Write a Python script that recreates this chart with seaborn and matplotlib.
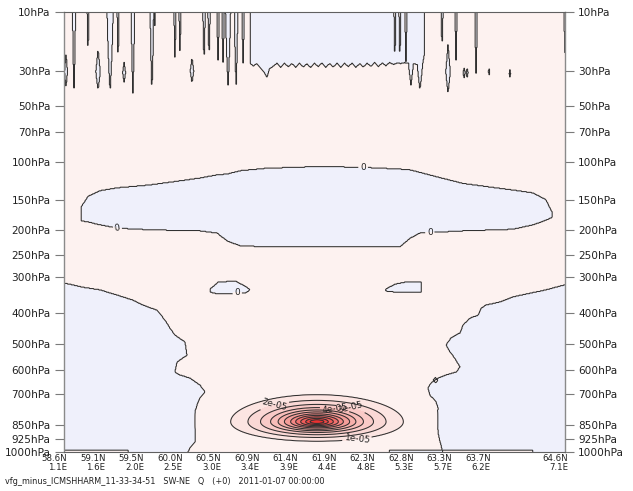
import numpy as np
import matplotlib
matplotlib.use("Agg")
import matplotlib.pyplot as plt
from matplotlib.path import Path
from matplotlib.transforms import ScaledTranslation
import seaborn as sns

# ---------------------------------------------------------------------------
# Section layout: SW-NE cross section, 200 grid columns, pressure on a p**kappa axis
# ---------------------------------------------------------------------------
KAPPA = 2.0 / 7.0
N_COLS = 200
N_STEPS = 13

pressure_ticks = [10, 30, 50, 70, 100, 150, 200, 250, 300, 400, 500, 600, 700, 850, 925, 1000]
section_lat = ["58.6N", "59.1N", "59.5N", "60.0N", "60.5N", "60.9N", "61.4N",
               "61.9N", "62.3N", "62.8N", "63.3N", "63.7N", "64.6N"]
section_lon = ["1.1E", "1.6E", "2.0E", "2.5E", "3.0E", "3.4E", "3.9E",
               "4.4E", "4.8E", "5.3E", "5.7E", "6.2E", "7.1E"]
section_step = [0, 1, 2, 3, 4, 5, 6, 7, 8, 9, 10, 11, 13]

caption = "vfg_minus_ICMSHHARM_11-33-34-51   SW-NE   Q   (+0)   2011-01-07 00:00:00"

# contour levels of the Q difference (kg/kg)
q_levels = [0.0, 1e-05, 2e-05, 3e-05, 4e-05, 5e-05, 6e-05, 7e-05, 8e-05, 9e-05, 1e-04, 1.1e-04]

# label anchors (grid column, hPa) for the labelled contour levels
label_anchor = {
    0.0: [(21.2, 196), (119.4, 106), (146.1, 199), (69.1, 342)],
    1e-05: [(116.6, 890)],
    2e-05: [(84.2, 761)],
    3e-05: [(114.5, 762)],
    4e-05: [(108.0, 778)],
}

# ---------------------------------------------------------------------------
# Zero line of the field: areas where the difference is negative
# (x in grid columns, p in hPa)
# ---------------------------------------------------------------------------
# upper-tropospheric negative lobe
lobe_x = [6.8, 9.6, 14.4, 21.2, 34.3, 54.3, 61.1, 65.1, 70.3, 81.0, 102.2, 119.4,
          134.1, 138.1, 142.1, 159.3, 179.2, 187.2, 192.4, 194.8]
lobe_top = [160, 144, 136, 132, 128, 119, 115, 114, 110, 107, 105, 106,
            108, 109, 112, 126, 135, 139, 149, 168]
lobe_bot = [183, 185, 190, 196, 199, 201, 205, 220, 230, 232, 232, 232,
            232, 215, 205, 201, 198, 190, 182, 177]

# two small negative cells near 330 hPa
cell1_x = [58.3, 61.5, 68.3, 72.3, 74.3]
cell1_top = [331, 313, 310, 323, 333]
cell1_bot = [339, 344, 342, 342, 333]
cell2_x = [128.5, 132.1, 136.1, 142.5]
cell2_top = [331, 318, 313, 313]
cell2_bot = [336, 339, 339, 339]

# lower-left negative area (outline)
ll_x = [-5, 0, 7.6, 14.4, 21.2, 27.5, 31.5, 37.1, 40.3, 42.3,
        44.3, 47.1, 48.3, 49.1, 45.1, 44.3, 46.3, 50.3, 54.3, 56.3,
        54.3, 53.1, 52.3, 52.3, 52.3, 50.3, 49.1, -5]
ll_p = [315, 315, 326, 333, 347, 361, 375, 390, 420, 446,
        469, 486, 493, 541, 567, 607, 619, 632, 662, 692,
        719, 752, 785, 888, 943, 977, 1010, 1010]

# lower-right negative area (outline)
lr_x = [205, 200, 198, 192.4, 186.0, 179.2, 174.1, 168.5, 166.5, 165.3,
        162.1, 159.3, 158.1, 156.5, 154.5, 153.3, 152.5, 154.1, 156.0, 158.1,
        156.5, 152.5, 149.3, 146.5, 145.3, 146.1, 148.5, 149.3, 149.0, 149.3,
        150.1, 150.5, 151.3, 205]
lr_p = [320, 320, 323, 333, 342, 352, 366, 375, 384, 405,
        414, 436, 462, 469, 479, 493, 504, 529, 552, 587,
        607, 619, 632, 653, 674, 706, 737, 766, 815, 888,
        943, 960, 1010, 1010]

# stratospheric negative block under 10 hPa: lower edge
block_x = [74.3, 75.5, 77.0, 78.5, 80.0, 81.0, 82.0, 83.5, 85.0, 86.5,
           88.0, 89.5, 91.0, 92.5, 94.0, 95.5, 97.0, 98.5, 100.0, 101.5,
           103.0, 104.5, 106.0, 107.5, 109.0, 110.5, 112.0, 113.5, 115.0, 116.5,
           118.0, 119.5, 121.0, 122.5, 124.0, 125.5, 127.0, 128.5, 130.0, 131.5,
           133.0, 134.5, 136.0, 137.5, 138.5, 139.5, 141.0, 142.1, 143.2, 144.0]
block_bottom = [26.2, 27.5, 26.4, 28.6, 30.5, 32.8, 28.8, 27.6, 26.3, 28.0,
                26.2, 27.8, 26.4, 28.1, 26.2, 27.9, 26.5, 28.2, 26.3, 27.7,
                26.1, 28.0, 26.4, 27.9, 26.2, 28.1, 26.3, 27.8, 26.1, 28.2,
                26.4, 27.9, 26.2, 27.6, 26.0, 27.8, 26.1, 27.4, 25.9, 26.8,
                26.2, 26.4, 26.0, 26.3, 37.0, 26.5, 26.8, 39.8, 26.5, 21.7]

# narrow sign flips hanging from the model top
spike_x = [4.0, 9.6, 18.4, 21.6, 27.5, 35.1, 36.3, 44.3, 46.3, 55.9,
           57.9, 61.5, 63.5, 65.5, 68.7, 71.5, 132.1, 134.1, 136.5, 150.9,
           156.5, 164.5, 200.0]
spike_bottom = [38.7, 22.9, 41.0, 25.8, 41.6, 41.0, 14.5, 25.8, 22.9, 26.2,
                24.1, 24.9, 25.8, 37.0, 38.7, 26.2, 25.4, 25.4, 25.4, 20.3,
                24.9, 30.8, 22.1]
spike_halfwidth = [0.7, 0.5, 1.4, 0.5, 0.8, 0.8, 0.4, 0.5, 0.5, 0.6,
                   0.6, 0.6, 0.6, 1.2, 0.8, 0.6, 0.5, 0.5, 0.5, 0.6,
                   0.5, 0.6, 0.6]

# small detached sign flips (lens shaped)
lens_x = [0.8, 13.6, 24.0, 51.1, 153.3, 159.7, 160.9, 169.7, 178.0, 148.3]
lens_top = [22.1, 20.3, 25.8, 23.7, 18.5, 28.0, 28.0, 28.4, 29.3, 628]
lens_bottom = [38.1, 39.8, 35.4, 35.9, 41.6, 33.3, 33.3, 31.8, 32.8, 653]
lens_halfwidth = [0.6, 0.9, 0.6, 0.7, 0.9, 0.4, 0.4, 0.3, 0.3, 0.9]

# thin near-surface strips of opposite sign
strip_x0 = [-5, 130]
strip_x1 = [25.5, 187]
strip_top = [990, 990]

# moist anomaly near 850 hPa: ring half-widths (grid columns) of levels 1e-5 .. 1.1e-4
core_x = 101.0
core_p = 835.0
core_q = 1.17e-04
ring_halfwidth = [34.3, 27.5, 22.5, 18.5, 15.5, 13.0, 10.5, 8.5, 6.5, 4.5, 2.8]
ring_top_p = 705.0      # top of the 1e-5 ring
ring_bottom_p = 938.0   # bottom of the 1e-5 ring
tail_halfwidth = 50.0

# ---------------------------------------------------------------------------
# Build the gridded field
# ---------------------------------------------------------------------------
xg = np.linspace(0, N_COLS, 801)
vg = np.linspace(10 ** KAPPA, 1000 ** KAPPA, 600)
pg = vg ** (1.0 / KAPPA)
X, P = np.meshgrid(xg, pg)
pts = np.column_stack([X.ravel(), P.ravel()])


def area(xs, ps):
    return Path(np.column_stack([xs, ps]))


shapes = [
    area(lobe_x + lobe_x[::-1], lobe_top + lobe_bot[::-1]),
    area(cell1_x + cell1_x[::-1], cell1_top + cell1_bot[::-1]),
    area(cell2_x + cell2_x[::-1], cell2_top + cell2_bot[::-1]),
    area(ll_x, ll_p),
    area(lr_x, lr_p),
    area([block_x[0]] + block_x + [block_x[-1]], [5] + block_bottom + [5]),
]
for x, pb, w in zip(spike_x, spike_bottom, spike_halfwidth):
    shapes.append(area([x - w, x + w, x], [5, 5, pb]))
for x, pt, pb, w in zip(lens_x, lens_top, lens_bottom, lens_halfwidth):
    pm = 0.5 * (pt + pb)
    shapes.append(area([x, x + w, x, x - w], [pt, pm, pb, pm]))
for x0, x1, pt in zip(strip_x0, strip_x1, strip_top):
    shapes.append(area([x0, x1, x1, x0], [pt, pt, 1010, 1010]))

negative = np.zeros(X.shape, dtype=bool)
for shp in shapes:
    negative ^= shp.contains_points(pts).reshape(X.shape)

dx = (X - core_x) / ring_halfwidth[0]
dp = np.where(P < core_p,
              (core_p - P) / (core_p - ring_top_p),
              (P - core_p) / (ring_bottom_p - core_p))
r = np.hypot(dx, dp)
prof_r = np.array([0.0] + ring_halfwidth[::-1] + [tail_halfwidth]) / ring_halfwidth[0]
prof_q = np.array([core_q] + q_levels[1:][::-1] + [0.0])
moist = np.interp(r, prof_r, prof_q)

field = np.where(negative, -1e-7, 1e-7 + moist)

# ---------------------------------------------------------------------------
# Plot
# ---------------------------------------------------------------------------
sns.set_theme(style="white")
plt.rcParams["font.family"] = ["DejaVu Sans"]

fig = plt.figure(figsize=(6.33, 4.91), dpi=100)
ax = fig.add_axes([64 / 633, 39 / 491, 501 / 633, 440 / 491])


def fwd(p):
    return np.power(np.clip(p, 1e-6, None), KAPPA)


def inv(v):
    return np.power(np.clip(v, 1e-6, None), 1.0 / KAPPA)


ax.set_yscale("function", functions=(fwd, inv))

band_levels = [-1.0] + q_levels + [1.0]
band_colors = ["#eff0fb"] + sns.blend_palette(
    ["#fdf2f0", "#f6a9a4", "#ec3030"], len(q_levels)).as_hex()
ax.contourf(X, P, field, levels=band_levels, colors=band_colors)

line_kw = dict(colors="#303030", linewidths=0.75)
plain_levels = [lv for lv in q_levels if lv not in label_anchor]
ax.contour(X, P, field, levels=plain_levels, **line_kw)


def fmt(v):
    return "0" if v == 0 else f"{v:.0e}"


for lv, anchors in label_anchor.items():
    cs = ax.contour(X, P, field, levels=[lv], **line_kw)
    ax.clabel(cs, fontsize=6.4, fmt=fmt, inline=True, inline_spacing=2,
              colors="#222222", manual=anchors)

ax.set_xlim(0, N_COLS)
ax.set_ylim(1000, 10)

# pressure axis on both sides
ax.set_yticks(pressure_ticks)
ax.set_yticklabels([f"{p}hPa" for p in pressure_ticks])
ax.yaxis.set_minor_locator(matplotlib.ticker.NullLocator())
ax.tick_params(axis="y", which="major", left=True, right=True, labelleft=True,
               labelright=True, direction="out", length=6.5, width=0.8,
               color="#7a7a7a", labelsize=7.6, labelcolor="#222222", pad=3)

# section positions along the bottom, grid-column ticks on top and bottom
ax.set_xticks([N_COLS * k / N_STEPS for k in section_step])
ax.set_xticklabels([f"{a}\n{b}" for a, b in zip(section_lat, section_lon)])
ax.set_xticks(np.arange(0, N_COLS + 1), minor=True)
ax.tick_params(axis="x", which="major", length=0, pad=1.5, labelsize=6.2,
               labelcolor="#222222")
ax.tick_params(axis="x", which="minor", bottom=True, top=True, direction="in",
               length=2.2, width=0.8, color="#555555")
shift = ScaledTranslation(3 / 100, 0, fig.dpi_scale_trans)
for lbl in ax.get_xticklabels():
    lbl.set_horizontalalignment("right")
    lbl.set_multialignment("right")
    lbl.set_linespacing(0.95)
    lbl.set_transform(lbl.get_transform() + shift)

for side in ("left", "right"):
    ax.spines[side].set_color("#8a8a8a")
    ax.spines[side].set_linewidth(1.0)
for side in ("top", "bottom"):
    ax.spines[side].set_color("#606060")
    ax.spines[side].set_linewidth(0.8)

fig.text(5 / 633, 1 - 482 / 491, caption, ha="left", va="center",
         fontsize=5.9, color="#222222")

fig.savefig("out.png", dpi=100)
